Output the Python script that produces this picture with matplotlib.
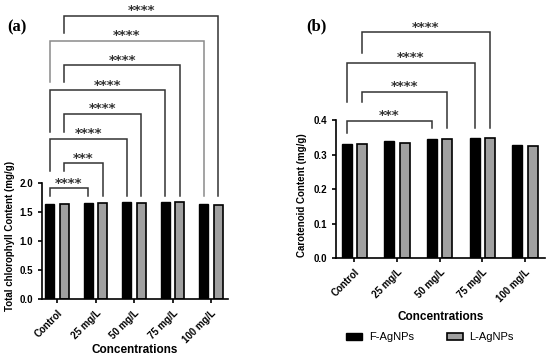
import numpy as np
import matplotlib
matplotlib.use('Agg')
from matplotlib import pyplot as plt
from matplotlib.patches import Patch

plt.rcParams['font.family'] = ['Liberation Sans', 'DejaVu Sans']

# data
conc = ['Control', '25 mg/L', '50 mg/L', '75 mg/L', '100 mg/L']
chl_f = [1.64, 1.66, 1.67, 1.68, 1.63]
chl_l = [1.64, 1.65, 1.66, 1.67, 1.62]
car_f = [0.332, 0.339, 0.346, 0.350, 0.327]
car_l = [0.331, 0.334, 0.345, 0.349, 0.326]

# significance brackets: (series, compared group, bar y, left leg end, label, colour)
chl_marks = [
    ('L', 4, 4.88, 4.59, '****', '#333333'),
    ('F', 4, 4.45, 3.74, '****', '#8a8a8a'),
    ('L', 3, 4.03, 3.74, '****', '#333333'),
    ('F', 3, 3.60, 2.88, '****', '#333333'),
    ('L', 2, 3.19, 2.88, '****', '#333333'),
    ('F', 2, 2.76, 2.20, '****', '#333333'),
    ('L', 1, 2.34, 2.20, '***', '#333333'),
    ('F', 1, 1.91, 1.78, '****', '#333333'),
]
car_marks = [
    ('L', 3, 0.655, 0.594, '****', '#333333'),
    ('F', 3, 0.567, 0.454, '****', '#333333'),
    ('L', 2, 0.483, 0.454, '****', '#333333'),
    ('F', 2, 0.398, 0.364, '***', '#333333'),
]

fig = plt.figure(figsize=(5.5, 3.58), dpi=100)


def draw_panel(ax, f_vals, l_vals, marks, off, ytop, spine_top, yticks, right_leg):
    x = np.arange(len(conc))
    w = 0.235
    ax.bar(x - off, f_vals, w, color='black', edgecolor='black', linewidth=1.0)
    ax.bar(x + off, l_vals, w, color='#a0a0a0', edgecolor='black', linewidth=1.2)
    ax.set_ylim(0, ytop)
    ax.spines['top'].set_visible(False)
    ax.spines['right'].set_visible(False)
    ax.spines['left'].set_bounds(0, spine_top)
    for s in ('left', 'bottom'):
        ax.spines[s].set_linewidth(1.2)
    ax.set_yticks(yticks)
    ax.set_yticklabels(['%.1f' % v for v in yticks], fontsize=7, fontweight='bold')
    ax.set_xticks(x)
    ax.set_xticklabels(conc, rotation=45, ha='right', rotation_mode='anchor',
                       fontsize=7, fontweight='bold')
    ax.tick_params(length=3, width=1.2)
    ax.set_xlabel('Concentrations', fontsize=8.5, fontweight='bold')
    for ser, g, yb, yleg, lab, col in marks:
        x0 = -off if ser == 'F' else off
        x1 = g - off if ser == 'F' else g + off
        ax.plot([x0, x0, x1, x1], [yleg, yb, yb, right_leg], color=col,
                lw=1.1, clip_on=False, solid_joinstyle='miter')
        ax.annotate(lab, ((x0 + x1) / 2, yb), xytext=(0, -1), textcoords='offset points',
                    ha='center', va='bottom', fontsize=9.5, fontweight='bold',
                    family='DejaVu Sans', color='#333333', annotation_clip=False)


ax1 = fig.add_axes([42 / 550, 59 / 358, 186 / 550, 290 / 358])
draw_panel(ax1, chl_f, chl_l, chl_marks, 0.19, 5.0, 2.0,
           [0.0, 0.5, 1.0, 1.5, 2.0], 1.77)
ax1.set_xlim(-0.39, 4.44)
ax1.set_ylabel('Total chlorophyll Content (mg/g)', fontsize=7, fontweight='bold')
ax1.yaxis.set_label_coords(-0.145, 0.217)
ax1.xaxis.set_label_coords(0.5, -0.155)

ax2 = fig.add_axes([336 / 550, 100 / 358, 209 / 550, 241 / 358])
draw_panel(ax2, car_f, car_l, car_marks, 0.18, 0.7, 0.4,
           [0.0, 0.1, 0.2, 0.3, 0.4], 0.377)
ax2.set_xlim(-0.43, 4.47)
ax2.set_ylabel('Carotenoid Content (mg/g)', fontsize=7, fontweight='bold')
ax2.yaxis.set_label_coords(-0.139, 0.262)
ax2.xaxis.set_label_coords(0.5, -0.22)

fig.text(17 / 550, 1 - 27 / 358, '(a)', fontsize=12, fontweight='bold',
         family='Liberation Serif', ha='center', va='center')
fig.text(316 / 550, 1 - 26 / 358, '(b)', fontsize=12, fontweight='bold',
         family='Liberation Serif', ha='center', va='center')

handles = [Patch(facecolor='black', edgecolor='black', label='F-AgNPs'),
           Patch(facecolor='#a0a0a0', edgecolor='black', linewidth=1.2, label='L-AgNPs')]
fig.legend(handles=handles, loc='center', bbox_to_anchor=(430 / 550, 1 - 337 / 358),
           ncol=2, frameon=False, fontsize=8, handlelength=1.4, handleheight=0.6,
           columnspacing=3.0, handletextpad=0.6)

fig.savefig('out.png', dpi=100)
